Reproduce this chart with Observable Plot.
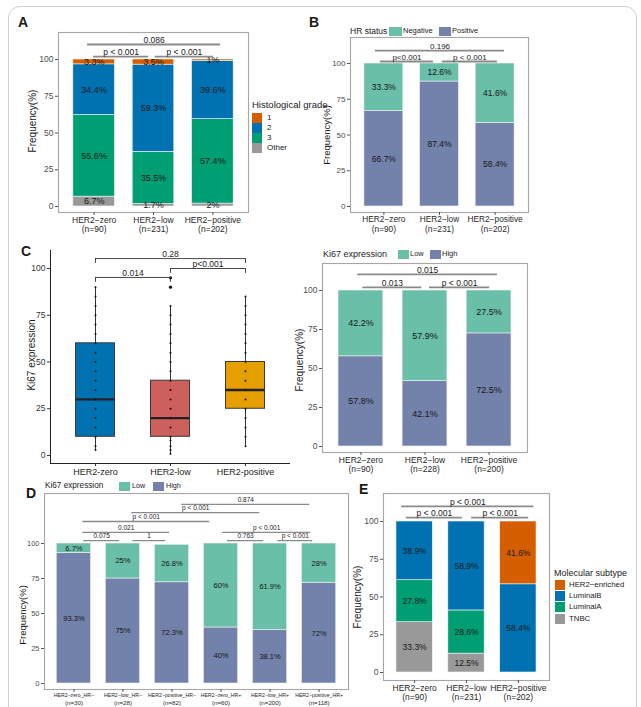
<!DOCTYPE html>
<html><head><meta charset="utf-8">
<script src="https://cdn.jsdelivr.net/npm/d3@7"></script>
<script src="https://cdn.jsdelivr.net/npm/@observablehq/plot@0.6"></script>
<style>
html,body{margin:0;padding:0;background:#fff;}
#root{position:relative;width:641px;height:707px;overflow:hidden;font-family:'Liberation Sans',Arial,sans-serif;color:#1a1a1a;background:#fff;}
.t{position:absolute;white-space:nowrap;line-height:1;transform:translateY(-50%);}
.rot{position:absolute;white-space:nowrap;line-height:1;transform:translate(-50%,-50%) rotate(-90deg);}
.key{position:absolute;}
.letter{position:absolute;font-weight:bold;line-height:1;}
svg{position:absolute;}
</style></head><body><div id="root"></div>
<script>
// ---------------- DATA ----------------
const her2Groups = ["HER2−zero","HER2−low","HER2−positive"];
// A: histological grade
const nA = [90,231,202];
const gradeOther = [6.7,1.7,2];
const grade3 = [55.6,35.5,57.4];
const grade2 = [34.4,59.3,39.6];
const grade1 = [3.3,3.5,1];
const bracketsA = [
  {x1:0.89,x2:3.13,y:110.2,label:"0.086"},
  {x1:0.99,x2:1.92,y:102,label:"p < 0.001"},
  {x1:2.03,x2:3.01,y:102,label:"p < 0.001"}
];
// B: HR status
const nB = [90,231,202];
const hrPositive = [66.7,87.4,58.4];
const hrNegative = [33.3,12.6,41.6];
const bracketsB = [
  {x1:0.85,x2:3.17,y:109,label:"0.196"},
  {x1:0.94,x2:1.89,y:101.4,label:"p<0.001"},
  {x1:2.05,x2:3.04,y:101.4,label:"p < 0.001"}
];
// C left: Ki67 boxplot
const boxGroups = ["HER2-zero","HER2-low","HER2-positive"];
const ki67Q1 = [10,10,25];
const ki67Median = [30,20,35];
const ki67Q3 = [60,40,50];
const ki67WhiskerLow = [3,1,5];
const ki67WhiskerHigh = [90,80,85];
const ki67Outliers = [[],[90,95],[]];
const ki67Points = [
  [3,5,10,15,20,25,30,35,40,45,50,55,60,65,70,75,80,85,90],
  [1,3,5,8,10,15,20,25,30,35,40,45,50,55,60,65,70,75,80],
  [5,10,15,20,25,30,35,40,45,50,55,60,65,70,75,80,85]
];
const bracketsCbox = [
  {x1:1,x2:3,y:105.3,label:"0.28"},
  {x1:1,x2:2,y:95.2,label:"0.014"},
  {x1:2,x2:3,y:100,label:"p<0.001"}
];
// C right: Ki67 high/low
const nC = [90,228,200];
const kiHigh = [57.8,42.1,72.5];
const kiLow = [42.2,57.9,27.5];
const bracketsC = [
  {x1:0.95,x2:3.13,y:110.3,label:"0.015"},
  {x1:1.03,x2:1.95,y:102,label:"0.013"},
  {x1:2.07,x2:3.01,y:102,label:"p < 0.001"}
];
// D: Ki67 by HER2 x HR
const dGroups = ["HER2−zero_HR−","HER2−low_HR−","HER2−positive_HR−","HER2−zero_HR+","HER2−low_HR+","HER2−positive_HR+"];
const nD = [30,28,82,60,200,118];
const dHigh = [93.3,75,72.3,40,38.1,72];
const dLow = [6.7,25,26.8,60,61.9,28];
const bracketsD = [
  {x1:3.2,x2:5.81,y:127.9,label:"0.874"},
  {x1:2.18,x2:4.79,y:122.1,label:"p < 0.001"},
  {x1:1.18,x2:3.77,y:115.7,label:"p < 0.001"},
  {x1:1.18,x2:2.95,y:107.9,label:"0.021"},
  {x1:4.03,x2:5.83,y:107.9,label:"p < 0.001"},
  {x1:1.2,x2:1.93,y:102.1,label:"0.075"},
  {x1:2.2,x2:2.87,y:102.1,label:"1"},
  {x1:4.13,x2:4.87,y:102.1,label:"0.763"},
  {x1:5.16,x2:5.87,y:102.1,label:"p < 0.001"}
];
// E: molecular subtype
const nE = [90,231,202];
const tnbc = [33.3,12.5,0];
const luminalA = [27.8,28.6,0];
const luminalB = [38.9,58.9,58.4];
const her2Enriched = [0,0,41.6];
const bracketsE = [
  {x1:0.75,x2:3.3,y:110,label:"p < 0.001"},
  {x1:0.84,x2:1.92,y:102.6,label:"p < 0.001"},
  {x1:2.1,x2:3.2,y:102.6,label:"p < 0.001"}
];

// ---------------- STYLE ----------------
const C_ORANGE="#D55E00", C_BLUE="#0072B2", C_GREEN="#009E73", C_GRAY="#999999";
const C_TEAL="#69BFA7", C_SLATE="#7382AB";
const BOX_COLORS=["#0072B2","#CD5F5C","#E69F00"];
const FONT="'Liberation Sans', Arial, sans-serif";
const root=document.getElementById("root");

function place(svg, box){ svg.style.left=box[0]+"px"; svg.style.top=box[1]+"px"; root.appendChild(svg); }
function txt(x,y,s,size,extra=""){ const d=document.createElement("div"); d.className="t"; d.style.cssText+=`left:${x}px;top:${y}px;font-size:${size}px;${extra}`; d.textContent=s; root.appendChild(d); }
function rot(x,y,s,size){ const d=document.createElement("div"); d.className="rot"; d.style.cssText+=`left:${x}px;top:${y}px;font-size:${size}px;`; d.textContent=s; root.appendChild(d); }
function key(x,y,w,h,c){ const d=document.createElement("div"); d.className="key"; d.style.cssText=`left:${x}px;top:${y}px;width:${w}px;height:${h}px;background:${c};`; root.appendChild(d); }
function letter(x,y,s){ const d=document.createElement("div"); d.className="letter"; d.style.cssText=`left:${x}px;top:${y}px;font-size:14px;`; d.textContent=s; root.appendChild(d); }

function stacked(cfg){
  const {cats,nvals,series,frame,box,y0,y100,brackets,barHalf=0.35,xFont=8.5,nFont=null,lineGap=9.8,tickFont=8.5,valFont=9,brFont=8.5,brColor="#8a8a8a",brWidth=1.8} = cfg;
  const n=cats.length;
  const ppu=(y0-y100)/100;
  const ymin=-(frame[3]-y0)/ppu, ymax=(y0-frame[1])/ppu;
  const rects=[];
  cats.forEach((c,i)=>{ let cum=0; series.forEach(s=>{ const v=s.values[i]; if(v>0) rects.push({x:i+1,y1:cum,y2:cum+v,v,fill:s.color}); cum+=v; }); });
  const ticks=d3.range(1,n+1);
  const svg=Plot.plot({
    width:box[2]-box[0], height:box[3]-box[1],
    marginLeft:frame[0]-box[0], marginTop:frame[1]-box[1], marginRight:box[2]-frame[2], marginBottom:box[3]-frame[3],
    style:{background:"transparent",fontFamily:FONT,overflow:"visible"},
    x:{domain:[0.4,n+0.6]},
    y:{domain:[ymin,ymax]},
    marks:[
      Plot.rect(rects,{x1:d=>d.x-barHalf,x2:d=>d.x+barHalf,y1:"y1",y2:"y2",fill:"fill",stroke:"#f4f4f4",strokeWidth:0.6}),
      Plot.text(rects,{x:"x",y:d=>(d.y1+d.y2)/2,text:d=>`${d.v}%`,fontSize:valFont,fill:"#161616"}),
      Plot.frame({stroke:"#a6a6a6",strokeWidth:1.1}),
      Plot.axisY({ticks:[0,25,50,75,100],tickSize:3,tickPadding:2,fontSize:tickFont,fill:"#4d4d4d",stroke:"#555",label:null}),
      Plot.axisX({ticks,tickFormat:i=>cats[i-1],tickSize:3,tickPadding:1,fontSize:xFont,fill:"#262626",stroke:"#555",label:null}),
      Plot.axisX({ticks,tickFormat:i=>`(n=${nvals[i-1]})`,tickSize:0,tickPadding:4+lineGap,fontSize:nFont||xFont,fill:"#262626",label:null}),
      Plot.ruleY(brackets,{x1:"x1",x2:"x2",y:"y",stroke:brColor,strokeWidth:brWidth}),
      Plot.text(brackets,{x:d=>(d.x1+d.x2)/2,y:"y",text:"label",dy:-4.5,fontSize:brFont,fill:"#1a1a1a"})
    ]
  });
  place(svg,box);
}

// outer rounded frame
const fr=document.createElement("div");
fr.style.cssText="position:absolute;left:8px;top:6px;width:627px;height:740px;border:1.5px solid #cfcfcf;border-radius:12px;";
root.appendChild(fr);

// ---------- Panel A ----------
stacked({cats:her2Groups,nvals:nA,
  series:[{values:gradeOther,color:C_GRAY},{values:grade3,color:C_GREEN},{values:grade2,color:C_BLUE},{values:grade1,color:C_ORANGE}],
  frame:[58,32,248,212],box:[0,25,252,245],y0:206,y100:59,brackets:bracketsA});
letter(18,15,"A");
rot(33,121,"Frequency(%)",10);
txt(252,105,"Histological grade",9.5);
[[C_ORANGE,"1"],[C_BLUE,"2"],[C_GREEN,"3"],[C_GRAY,"Other"]].forEach((k,i)=>{ key(252,113+i*10,10,10,k[0]); txt(267,118+i*10,k[1],8); });

// ---------- Panel B ----------
stacked({cats:her2Groups,nvals:nB,
  series:[{values:hrPositive,color:C_SLATE},{values:hrNegative,color:C_TEAL}],
  frame:[350,37,528,212],box:[320,28,535,245],y0:206,y100:63,brackets:bracketsB,tickFont:8,xFont:8.3,valFont:8.5,brFont:8,lineGap:9.5});
letter(309,15,"B");
rot(327,135,"Frequency(%)",9.5);
txt(350,31,"HR status",8.5);
key(389,27,13,9,C_TEAL); txt(403,31,"Negative",7.5);
key(439,27,12,9,C_SLATE); txt(452,31,"Positive",7.5);

// ---------- Panel C left (boxplot) ----------
(function(){
  const frame=[50,250,290,463], box=[0,240,300,485], y0=455, y100=268;
  const ppu=(y0-y100)/100, ymin=-(frame[3]-y0)/ppu, ymax=(y0-frame[1])/ppu;
  const stats=boxGroups.map((g,i)=>({x:i+1,q1:ki67Q1[i],med:ki67Median[i],q3:ki67Q3[i],lo:ki67WhiskerLow[i],hi:ki67WhiskerHigh[i],fill:BOX_COLORS[i]}));
  const pts=ki67Points.flatMap((a,i)=>a.map(v=>({x:i+1,v})));
  const outs=ki67Outliers.flatMap((a,i)=>a.map(v=>({x:i+1,v})));
  const hw=0.26, tip=2.6;
  const svg=Plot.plot({
    width:box[2]-box[0],height:box[3]-box[1],
    marginLeft:frame[0]-box[0],marginTop:frame[1]-box[1],marginRight:box[2]-frame[2],marginBottom:box[3]-frame[3],
    style:{background:"transparent",fontFamily:FONT,overflow:"visible"},
    x:{domain:[0.4,3.6]}, y:{domain:[ymin,ymax]},
    marks:[
      Plot.ruleX(stats,{x:"x",y1:"lo",y2:"hi",stroke:"#333",strokeWidth:1}),
      Plot.rect(stats,{x1:d=>d.x-hw,x2:d=>d.x+hw,y1:"q1",y2:"q3",fill:"fill",stroke:"#3a3a3a",strokeWidth:1}),
      Plot.ruleY(stats,{x1:d=>d.x-hw,x2:d=>d.x+hw,y:"med",stroke:"#222",strokeWidth:2.4}),
      Plot.dot(pts,{x:"x",y:"v",r:1,fill:"#111",stroke:null}),
      Plot.dot(outs,{x:"x",y:"v",r:1.6,fill:"#111",stroke:null}),
      Plot.ruleX([0.4],{stroke:"#222",strokeWidth:1}),
      Plot.ruleY([ymin],{stroke:"#222",strokeWidth:1}),
      Plot.axisY({ticks:[0,25,50,75,100],tickSize:3,tickPadding:2,fontSize:8.5,fill:"#333",stroke:"#333",label:null}),
      Plot.axisX({ticks:[1,2,3],tickFormat:i=>boxGroups[i-1],tickSize:3,tickPadding:2,fontSize:9,fill:"#262626",stroke:"#333",label:null}),
      Plot.ruleY(bracketsCbox,{x1:"x1",x2:"x2",y:"y",stroke:"#333",strokeWidth:0.9}),
      Plot.ruleX(bracketsCbox,{x:"x1",y1:"y",y2:d=>d.y-tip,stroke:"#333",strokeWidth:0.9}),
      Plot.ruleX(bracketsCbox,{x:"x2",y1:"y",y2:d=>d.y-tip,stroke:"#333",strokeWidth:0.9}),
      Plot.text(bracketsCbox,{x:d=>(d.x1+d.x2)/2,y:"y",text:"label",dy:-4.5,fontSize:8.5,fill:"#1a1a1a"})
    ]
  });
  place(svg,box);
})();
letter(21,244,"C");
rot(32,355,"Ki67 expression",10);

// ---------- Panel C right ----------
stacked({cats:her2Groups,nvals:nC,
  series:[{values:kiHigh,color:C_SLATE},{values:kiLow,color:C_TEAL}],
  frame:[322,263,527,452],box:[300,255,535,485],y0:446,y100:290,brackets:bracketsC,tickFont:8.5,valFont:9,brFont:8.5});
rot(300,360,"Frequency(%)",10);
txt(323,254,"Ki67 expression",9);
key(398,250,11,9,C_TEAL); txt(410,254,"Low",7.5);
key(430,250,11,9,C_SLATE); txt(442,254,"High",7.5);

// ---------- Panel D ----------
stacked({cats:dGroups,nvals:nD,
  series:[{values:dHigh,color:C_SLATE},{values:dLow,color:C_TEAL}],
  frame:[44,493,348,689],box:[0,484,352,707],y0:683,y100:543,brackets:bracketsD,
  xFont:5.2,nFont:6.2,lineGap:6.6,tickFont:7.5,valFont:7.5,brFont:6.5,brWidth:1.3});
letter(26,486,"D");
rot(23,615,"Frequency(%)",9.5);
txt(45,486,"Ki67 expression",8.2);
key(119,482,11,9,C_TEAL); txt(132,486,"Low",7.2);
key(153,482,11,9,C_SLATE); txt(166,486,"High",7.2);

// ---------- Panel E ----------
stacked({cats:her2Groups,nvals:nE,
  series:[{values:tnbc,color:C_GRAY},{values:luminalA,color:C_GREEN},{values:luminalB,color:C_BLUE},{values:her2Enriched,color:C_ORANGE}],
  frame:[383,493,549,680],box:[355,484,552,707],y0:672,y100:521,brackets:bracketsE,tickFont:8.5,xFont:8.5,valFont:8.5,brFont:8.5,lineGap:9});
letter(359,482,"E");
rot(358,597,"Frequency(%)",10);
txt(554,573,"Molecular subtype",9);
[[C_ORANGE,"HER2−enriched"],[C_BLUE,"LuminalB"],[C_GREEN,"LuminalA"],[C_GRAY,"TNBC"]].forEach((k,i)=>{ key(555,580+i*11.2,10,10,k[0]); txt(569,585+i*11.2,k[1],7.8); });
</script></body></html>
